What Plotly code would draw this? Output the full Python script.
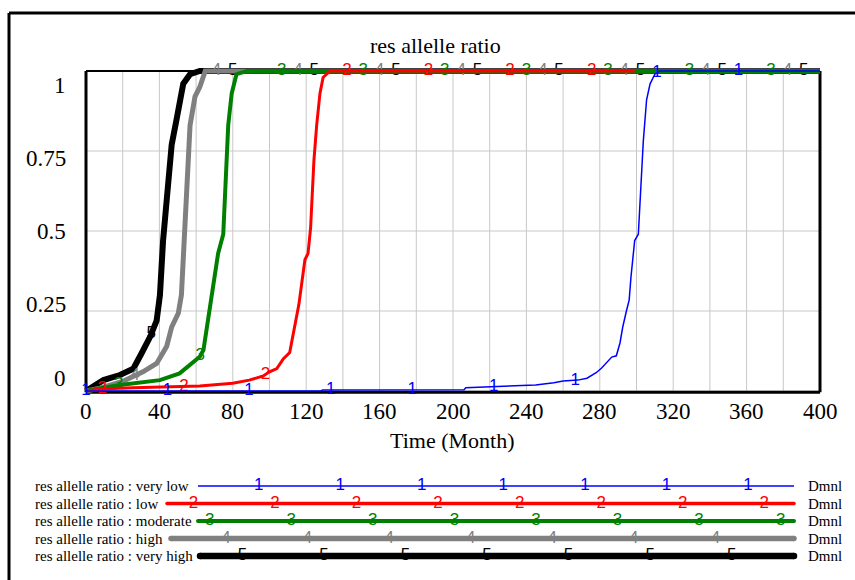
import numpy as np
import plotly.graph_objects as go

# ---------------- data ----------------
title_text = "res allelle ratio"
x_title_text = "Time (Month)"
unit_text = "Dmnl"

series_names = ["very low", "low", "moderate", "high", "very high"]
series_ids = ["1", "2", "3", "4", "5"]
series_colors = ["#0000ff", "#ff0000", "#008000", "#808080", "#000000"]

months_very_low = [0, 128, 129, 206, 207, 232, 245, 255, 260, 268, 273, 278, 281,
                   286.5, 289, 291, 292.5, 294.5, 296, 297, 299, 301, 302, 302.8,
                   303.7, 305.5, 307.4, 310, 312.8, 400]
ratio_very_low = [0, 0, 0.003, 0.004, 0.01, 0.016, 0.019, 0.026, 0.031, 0.034, 0.04,
                  0.057, 0.072, 0.106, 0.11, 0.15, 0.2, 0.25, 0.284, 0.357, 0.47,
                  0.49, 0.61, 0.70, 0.78, 0.91, 0.96, 0.99, 1.0, 1.0]

months_low = [0, 7.6, 25.6, 44, 62, 80, 89, 96.6, 100, 104, 107.5, 111, 113, 116,
              119.3, 121, 122.4, 123.3, 124.2, 125.7, 127.5, 129.2, 133, 299]
ratio_low = [0, 0.006, 0.01, 0.012, 0.016, 0.024, 0.034, 0.047, 0.06, 0.07, 0.10,
             0.12, 0.18, 0.27, 0.41, 0.43, 0.51, 0.62, 0.72, 0.83, 0.93, 0.98, 1.0, 1.0]

months_moderate = [0, 2.2, 18.5, 33, 40.3, 51, 56.7, 62, 64, 65.8, 67.6, 70.3, 72,
                   74.8, 75.7, 76.7, 77.5, 79.4, 82, 87.6, 400]
ratio_moderate = [0, 0.003, 0.019, 0.029, 0.034, 0.055, 0.081, 0.107, 0.128, 0.2,
                  0.26, 0.37, 0.43, 0.49, 0.6, 0.72, 0.83, 0.93, 0.99, 1.0, 1.0]

months_high = [0, 7.6, 20, 31, 38.5, 44, 46.7, 50.3, 52, 54, 55, 56.7, 59.4, 62, 65, 400]
ratio_high = [0, 0.009, 0.03, 0.06, 0.086, 0.14, 0.2, 0.243, 0.3, 0.51, 0.62, 0.83,
              0.92, 0.95, 1.0, 1.0]

months_very_high = [0, 2.2, 9.5, 18.5, 25.8, 30.3, 35, 38.5, 40.3, 42, 44.3, 46.7,
                    49.4, 51.2, 53, 56.7, 62, 400]
ratio_very_high = [0, 0.009, 0.034, 0.05, 0.07, 0.118, 0.17, 0.22, 0.3, 0.47, 0.62,
                   0.77, 0.85, 0.91, 0.96, 0.99, 1.0, 1.0]

x_ticks = [0, 40, 80, 120, 160, 200, 240, 280, 320, 360, 400]
x_grid = list(range(0, 401, 20))
y_ticks = [1, 0.75, 0.5, 0.25, 0]
y_tick_text = ["1", "0.75", "0.5", "0.25", "0"]

series_months = [months_very_low, months_low, months_moderate, months_high, months_very_high]
series_ratio = [ratio_very_low, ratio_low, ratio_moderate, ratio_high, ratio_very_high]

# ---------------- layout constants (pixels) ----------------
W, H = 855, 580
X_LO, X_HI = 0, 400
Y_LO, Y_HI = 0, 1
PX_X0, PX_X1 = 86, 820      # where x = 0 and x = 400 land
PX_Y1, PX_Y0 = 71, 391      # where y = 1 and y = 0 land
X_PAD, Y_PAD = 4, 0.025

sx = (PX_X1 - PX_X0) / (X_HI - X_LO)
sy = (PX_Y0 - PX_Y1) / (Y_HI - Y_LO)
dom_left = PX_X0 - X_PAD * sx
dom_right = PX_X1 + X_PAD * sx
dom_top = PX_Y1 - Y_PAD * sy
dom_bottom = PX_Y0 + Y_PAD * sy

serif = "Times New Roman, Liberation Serif, serif"
sans = "Arial, Liberation Sans, sans-serif"

plot_widths = [1.5, 3, 4, 5, 6]
legend_widths = [1.5, 3.5, 4, 5.5, 6.5]
legend_rows = [486, 503.5, 521, 538.5, 556]
legend_line_start = [198, 167, 198, 171, 200]
legend_line_end = 794
legend_label_x = 33
legend_unit_x = 806
legend_origin = 14
id_font_size = 17

mark_step = (X_HI - X_LO) / 9
mark_shift = mark_step / 5

fig = go.Figure()

# simulation runs, last scenario at the bottom of the stack
for i in reversed(range(5)):
    t = np.array(series_months[i], dtype=float)
    v = np.array(series_ratio[i], dtype=float)
    fig.add_trace(go.Scatter(
        x=t, y=v, mode="lines", xaxis="x", yaxis="y",
        line=dict(color=series_colors[i], width=plot_widths[i]),
        hoverinfo="skip", showlegend=False))
    mt = np.arange(i * mark_shift, min(t[-1], X_HI - 1), mark_step)
    fig.add_trace(go.Scatter(
        x=mt, y=np.interp(mt, t, v), mode="text", text=[series_ids[i]] * len(mt),
        textposition="middle center", cliponaxis=False,
        textfont=dict(family=sans, size=id_font_size, color=series_colors[i]),
        xaxis="x", yaxis="y", hoverinfo="skip", showlegend=False))

# key rows beneath the chart
legend_spacing = (PX_X1 - PX_X0) / 9
for i in range(5):
    y_row = legend_rows[i]
    w = legend_widths[i]
    fig.add_trace(go.Scatter(
        x=[legend_line_start[i], legend_line_end], y=[y_row, y_row],
        mode="lines+markers" if w > 3 else "lines",
        line=dict(color=series_colors[i], width=w),
        marker=dict(color=series_colors[i], size=w, line=dict(width=0)),
        xaxis="x2", yaxis="y2", hoverinfo="skip", showlegend=False))
    lx = legend_origin + i * legend_spacing / 5 + legend_spacing * np.arange(12)
    lx = lx[(lx > legend_line_start[i] + 4) & (lx < legend_line_end - 4)]
    fig.add_trace(go.Scatter(
        x=lx, y=[y_row] * len(lx), mode="text", text=[series_ids[i]] * len(lx),
        textposition="middle center", cliponaxis=False,
        textfont=dict(family=sans, size=id_font_size, color=series_colors[i]),
        xaxis="x2", yaxis="y2", hoverinfo="skip", showlegend=False))

shapes = []
# grid
for gx in x_grid:
    shapes.append(dict(type="line", xref="x", yref="y", x0=gx, x1=gx, y0=Y_LO, y1=Y_HI,
                       line=dict(color="#c8c8c8", width=1), layer="below"))
for gy in y_ticks:
    shapes.append(dict(type="line", xref="x", yref="y", x0=X_LO, x1=X_HI, y0=gy, y1=gy,
                       line=dict(color="#c8c8c8", width=1), layer="below"))
# plot border
edge_off = 1.3 / sy
shapes += [
    dict(type="line", xref="x", yref="y", x0=X_LO, x1=X_HI, y0=Y_HI, y1=Y_HI,
         line=dict(color="black", width=2), layer="below"),
    dict(type="line", xref="x", yref="y", x0=X_LO, x1=X_HI, y0=Y_LO - edge_off, y1=Y_LO - edge_off,
         line=dict(color="black", width=3), layer="below"),
    dict(type="line", xref="x", yref="y", x0=X_LO, x1=X_LO, y0=Y_LO - edge_off, y1=Y_HI,
         line=dict(color="black", width=3), layer="below"),
    dict(type="line", xref="x", yref="y", x0=X_HI, x1=X_HI, y0=Y_LO - edge_off, y1=Y_HI,
         line=dict(color="black", width=3), layer="below"),
]
# outer frame
shapes += [
    dict(type="line", xref="x2", yref="y2", x0=9, x1=W + 2, y0=13, y1=13,
         line=dict(color="black", width=3)),
    dict(type="line", xref="x2", yref="y2", x0=9, x1=9, y0=13, y1=H + 2,
         line=dict(color="black", width=3)),
]

annotations = []
annotations.append(dict(text=title_text, xref="x2", yref="y2", x=435, y=45,
                        showarrow=False, xanchor="center", yanchor="middle",
                        font=dict(family=serif, size=22, color="black")))
annotations.append(dict(text=x_title_text, xref="x2", yref="y2", x=452, y=440,
                        showarrow=False, xanchor="center", yanchor="middle",
                        font=dict(family=serif, size=22, color="black")))
for xt in x_ticks:
    annotations.append(dict(text=str(xt), xref="x", yref="y2", x=xt, y=411,
                            showarrow=False, xanchor="center", yanchor="middle",
                            font=dict(family=serif, size=23, color="black")))
# value labels sit evenly between the top and bottom rows of the scale
lab_top, lab_bottom = 85, 378
for yv, yt in zip(y_ticks, y_tick_text):
    ly = lab_top + (Y_HI - yv) / (Y_HI - Y_LO) * (lab_bottom - lab_top)
    annotations.append(dict(text=yt, xref="x2", yref="y2", x=68, y=ly,
                            showarrow=False, xanchor="right", yanchor="middle",
                            font=dict(family=serif, size=23, color="black")))
for i in range(5):
    annotations.append(dict(text=f"{title_text} : {series_names[i]}", xref="x2", yref="y2",
                            x=legend_label_x, y=legend_rows[i], showarrow=False,
                            xanchor="left", yanchor="middle",
                            font=dict(family=serif, size=15, color="black")))
    annotations.append(dict(text=unit_text, xref="x2", yref="y2",
                            x=legend_unit_x, y=legend_rows[i], showarrow=False,
                            xanchor="left", yanchor="middle",
                            font=dict(family=serif, size=15, color="black")))

fig.update_layout(
    width=W, height=H,
    margin=dict(l=0, r=0, t=0, b=0, pad=0),
    paper_bgcolor="white", plot_bgcolor="rgba(0,0,0,0)",
    showlegend=False,
    xaxis=dict(domain=[dom_left / W, dom_right / W], range=[X_LO - X_PAD, X_HI + X_PAD],
               visible=False, anchor="y"),
    yaxis=dict(domain=[(H - dom_bottom) / H, (H - dom_top) / H],
               range=[Y_LO - Y_PAD, Y_HI + Y_PAD], visible=False, anchor="x"),
    xaxis2=dict(domain=[0, 1], range=[0, W], visible=False, anchor="y2"),
    yaxis2=dict(domain=[0, 1], range=[H, 0], visible=False, anchor="x2"),
    shapes=shapes,
    annotations=annotations,
)

fig.write_html("out.html")
